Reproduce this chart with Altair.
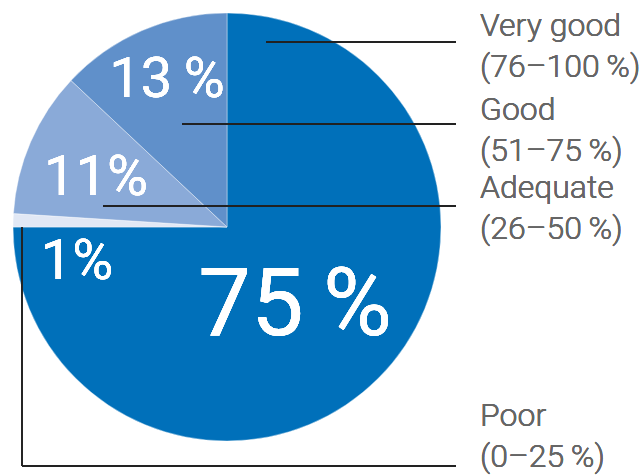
import altair as alt
import pandas as pd

categories = ["Very good", "Poor", "Adequate", "Good"]
shares = [75, 1, 11, 13]
ranges = ["(76–100\u2009%)", "(0–25\u2009%)", "(26–50\u2009%)", "(51–75\u2009%)"]
pct_labels = ["75\u2009%", "1%", "11%", "13\u2009%"]
colors = ["#0070BA", "#E1E8F5", "#8AAAD8", "#6090CA"]

df = pd.DataFrame({"cat": categories, "share": shares, "idx": list(range(len(categories)))})

CX, CY, R = 227, 227, 214

pie = alt.Chart(df).mark_arc(outerRadius=R, stroke="white", strokeWidth=0.4).encode(
    theta=alt.Theta("share:Q", stack=True),
    order=alt.Order("idx:Q"),
    color=alt.Color("cat:N", scale=alt.Scale(domain=categories, range=colors), legend=None),
    x=alt.value(CX),
    y=alt.value(CY),
)

layers = [pie]

# percentage labels (white)
pct_pos = {pct_labels[0]: (295, 335, 94), pct_labels[1]: (77, 279, 56),
           pct_labels[2]: (96, 195, 56), pct_labels[3]: (167, 97, 56)}
for lab in pct_labels:
    px, py, fs = pct_pos[lab]
    layers.append(
        alt.Chart(df).mark_text(
            text=lab, color="white", font="Roboto", fontWeight=400, fontSize=fs,
            align="center", baseline="alphabetic"
        ).encode(x=alt.value(px), y=alt.value(py))
    )

# category labels on the right
lab_y = {"Very good": 36, "Good": 120, "Adequate": 198, "Poor": 426}
for cat, rng in zip(categories, ranges):
    layers.append(
        alt.Chart(df).mark_text(
            text=[cat, rng], color="#666666", font="Roboto", fontWeight=300, fontSize=32,
            align="left", baseline="alphabetic", lineHeight=41
        ).encode(x=alt.value(480), y=alt.value(lab_y[cat]))
    )

# leader lines
lc = "#222222"
lw = 1.3
leaders = [
    (266, 456, 42, 42),
    (182, 456, 124, 124),
    (103, 456, 206, 206),
    (22, 22, 227, 466),
    (22, 456, 466, 466),
]
for x1, x2, y1, y2 in leaders:
    layers.append(
        alt.Chart(df).mark_rule(color=lc, strokeWidth=lw).encode(
            x=alt.value(x1), x2=alt.value(x2), y=alt.value(y1), y2=alt.value(y2)
        )
    )

chart = alt.layer(*layers).properties(
    width=644, height=476, padding=0, autosize=alt.AutoSizeParams(type="none")
).configure_view(stroke=None)

chart.save("out.html", embed_options={"renderer": "svg", "actions": False})
